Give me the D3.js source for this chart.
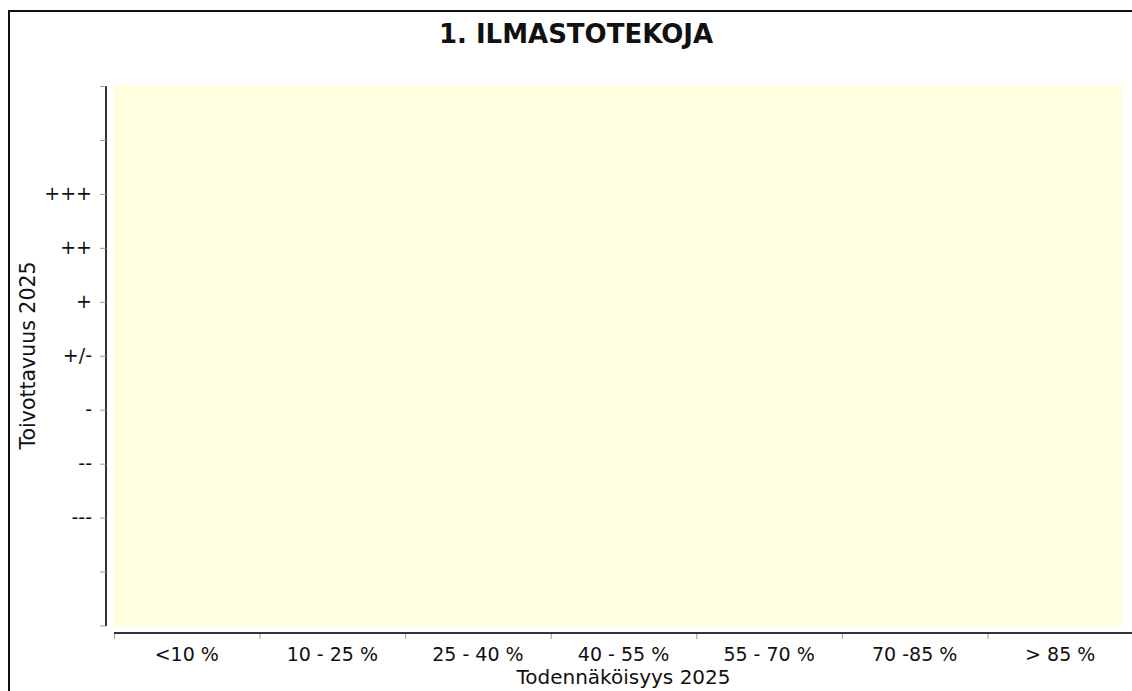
<!DOCTYPE html>
<html><head><meta charset="utf-8">
<script src="https://cdn.jsdelivr.net/npm/d3@7/dist/d3.min.js"></script>
<style>
html,body{margin:0;padding:0;background:#fff;overflow:hidden;}
svg{display:block;font-family:"DejaVu Sans",sans-serif;}
</style></head>
<body>
<svg id="c" width="1132" height="691"></svg>
<script>
const title = "1. ILMASTOTEKOJA";
const xTitle = "Todennäköisyys 2025";
const yTitle = "Toivottavuus 2025";
const categories = ["<10 %", "10 - 25 %", "25 - 40 %", "40 - 55 %", "55 - 70 %", "70 -85 %", "> 85 %"];
const yValues = [-5, -4, -3, -2, -1, 0, 1, 2, 3, 4, 5];
const yLabels = ["", "", "---", "--", "-", "+/-", "+", "++", "+++", "", ""];

const svg = d3.select("#c");

// outer frame (only top and left edges fall inside the picture)
svg.append("line").attr("x1", 8).attr("x2", 1132).attr("y1", 11).attr("y2", 11)
  .attr("stroke", "#111").attr("stroke-width", 2);
svg.append("line").attr("x1", 9).attr("x2", 9).attr("y1", 10).attr("y2", 691)
  .attr("stroke", "#111").attr("stroke-width", 2);

const x = d3.scaleBand().domain(categories).range([114, 1133]);
const y = d3.scaleLinear().domain([-5, 5]).range([625.5, 86]);

// plot background
svg.append("rect").attr("x", 114).attr("y", 86).attr("width", 1122 - 114).attr("height", 626 - 86)
  .attr("fill", "#FFFFE0");

// title
svg.append("text").attr("x", 576).attr("y", 43).attr("text-anchor", "middle")
  .attr("font-size", 26).attr("font-weight", "bold").attr("fill", "#111").text(title);

// Y axis
const yAxis = d3.axisLeft(y).tickValues(yValues).tickSize(6).tickPadding(8)
  .tickFormat(d => yLabels[yValues.indexOf(d)]);
const gy = svg.append("g").attr("transform", "translate(106,0)").call(yAxis);
gy.select(".domain").attr("d", `M0,${y(5)}V${y(-5)+0.5}`).attr("stroke", "#333").attr("stroke-width", 2);
gy.selectAll(".tick line").attr("stroke", "#999").attr("stroke-width", 1);
gy.selectAll(".tick text").attr("font-size", 19).attr("fill", "#111")
  .attr("font-family", "DejaVu Sans");

// X axis line
const gx = svg.append("g").attr("transform", "translate(0,633)");
gx.append("line").attr("x1", 114).attr("x2", 1132).attr("y1", 0).attr("y2", 0)
  .attr("stroke", "#333").attr("stroke-width", 2);
gx.selectAll("line.bt").data(categories).join("line").attr("class", "bt")
  .attr("x1", d => x(d) + 0.5).attr("x2", d => x(d) + 0.5).attr("y1", 1).attr("y2", 6)
  .attr("stroke", "#999").attr("stroke-width", 1);
gx.selectAll("text.lbl").data(categories).join("text").attr("class", "lbl")
  .attr("x", d => x(d) + x.bandwidth() / 2).attr("y", 28).attr("text-anchor", "middle")
  .attr("font-size", 19).attr("fill", "#111").text(d => d);

// axis titles
svg.append("text").attr("x", 623.5).attr("y", 684).attr("text-anchor", "middle")
  .attr("font-size", 20).attr("fill", "#111").text(xTitle);
svg.append("text").attr("transform", "translate(35,355.5) rotate(-90)").attr("text-anchor", "middle")
  .attr("font-size", 20.5).attr("fill", "#111").text(yTitle);
</script>
</body></html>
